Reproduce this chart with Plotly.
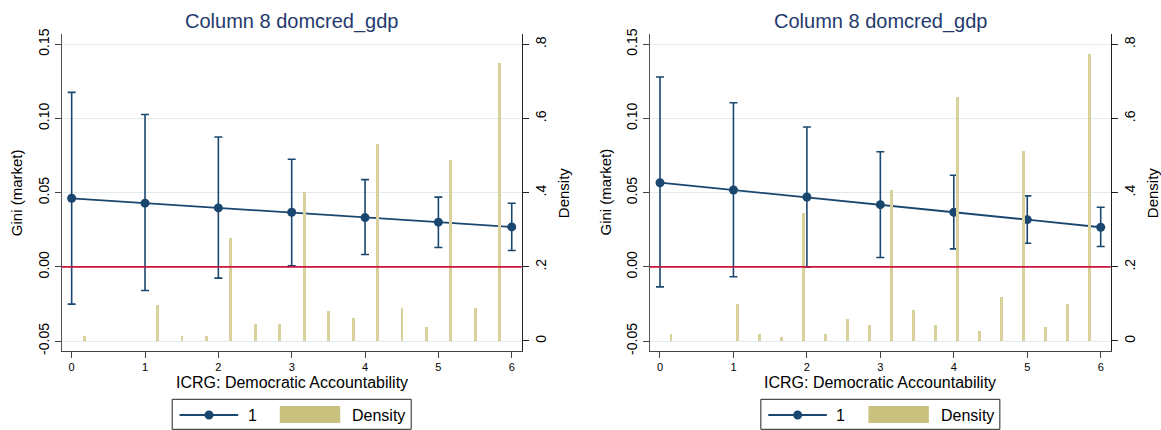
import plotly.graph_objects as go

# ---------------- data ----------------
levels = [0, 1, 2, 3, 4, 5, 6]

left_est = [0.0462, 0.0429, 0.0397, 0.0368, 0.0332, 0.0301, 0.0269]
left_lo = [-0.0251, -0.0159, -0.0076, 0.0007, 0.0083, 0.0130, 0.0110]
left_hi = [0.1176, 0.1027, 0.0875, 0.0725, 0.0588, 0.0470, 0.0429]

right_est = [0.0567, 0.0518, 0.0471, 0.0419, 0.0368, 0.0318, 0.0267]
right_lo = [-0.0135, -0.0067, 0.0000, 0.0063, 0.0121, 0.0159, 0.0137]
right_hi = [0.1279, 0.1106, 0.0942, 0.0776, 0.0617, 0.0478, 0.0402]

left_bins = [0.167, 1.167, 1.5, 1.833, 2.167, 2.5, 2.833, 3.167, 3.5, 3.833,
             4.167, 4.5, 4.833, 5.167, 5.5, 5.833]
left_dens = [0.012, 0.097, 0.012, 0.012, 0.278, 0.045, 0.045, 0.400, 0.080, 0.062,
             0.530, 0.089, 0.037, 0.487, 0.089, 0.748]

right_bins = [0.15, 1.05, 1.35, 1.65, 1.95, 2.25, 2.55, 2.85, 3.15, 3.45, 3.75,
              4.05, 4.35, 4.65, 4.95, 5.25, 5.55, 5.85]
right_dens = [0.019, 0.099, 0.019, 0.011, 0.343, 0.019, 0.058, 0.043, 0.406, 0.083,
              0.043, 0.658, 0.027, 0.117, 0.511, 0.036, 0.100, 0.773]

title_text = "Column 8 domcred_gdp"
xtitle = "ICRG: Democratic Accountability"
ytitle = "Gini (market)"
y2title = "Density"
legend_labels = ["1", "Density"]

gini_ticks = [-0.05, 0.0, 0.05, 0.10, 0.15]
gini_ticktext = ["-0.05", "0.00", "0.05", "0.10", "0.15"]
dens_ticks = [0, 0.2, 0.4, 0.6, 0.8]
dens_ticktext = ["0", ".2", ".4", ".6", ".8"]
x_ticks = [0, 1, 2, 3, 4, 5, 6]
zero_line_y = 0.0

# ---------------- style ----------------
W, H = 1161, 430
FONT = "Liberation Sans, Arial, sans-serif"
NAVY = "#1a476f"
SAND = "#d9d19c"
SAND_LEG = "#c9c27e"
RED = "#c8143c"
GRID = "#e3eaee"
TITLE_C = "#1f3a6e"

def px(x):
    return x / W

def py(y):
    return 1 - y / H

panels = [
    dict(est=left_est, lo=left_lo, hi=left_hi, bins=left_bins, dens=left_dens,
         xl=61.7, xr=521.7, xa="x", ya="y", ya2="y2"),
    dict(est=right_est, lo=right_lo, hi=right_hi, bins=right_bins, dens=right_dens,
         xl=650.0, xr=1110.7, xa="x2", ya="y3", ya2="y4"),
]
YT, YB = 34.3, 350.7

fig = go.Figure()
annotations = []
shapes = []
layout = {}

for i, p in enumerate(panels):
    xa, ya, ya2 = p["xa"], p["ya"], p["ya2"]
    err_plus = [h - e for h, e in zip(p["hi"], p["est"])]
    err_minus = [e - l for e, l in zip(p["est"], p["lo"])]
    fig.add_trace(go.Bar(
        x=p["bins"], y=p["dens"], xaxis=xa, yaxis=ya2, width=0.04,
        marker=dict(color=SAND, line=dict(width=0)), showlegend=False))
    fig.add_trace(go.Scatter(
        x=levels, y=p["est"], xaxis=xa, yaxis=ya, mode="lines+markers",
        line=dict(color=NAVY, width=1.8),
        marker=dict(color=NAVY, size=9),
        error_y=dict(type="data", symmetric=False, array=err_plus,
                     arrayminus=err_minus, color=NAVY, thickness=1.6, width=4),
        showlegend=False, cliponaxis=False))

    dom_x = [px(p["xl"]), px(p["xr"])]
    dom_y = [py(YB), py(YT)]
    xkey = "xaxis" if xa == "x" else "xaxis2"
    ykey = "yaxis" if ya == "y" else "yaxis3"
    y2key = "yaxis2" if ya2 == "y2" else "yaxis4"
    layout[xkey] = dict(domain=dom_x, anchor=ya, range=[-0.136, 6.136],
                        tickvals=x_ticks, ticks="outside", ticklen=6, tickcolor="#444",
                        showline=True, linecolor="#444", linewidth=1, showgrid=False,
                        zeroline=False, tickfont=dict(size=11, color="black", family=FONT),
                        automargin=False)
    layout[ykey] = dict(domain=dom_y, anchor=xa, range=[-0.0565, 0.1567],
                        tickvals=gini_ticks, ticktext=gini_ticktext, tickangle=-90,
                        ticks="outside", ticklen=6, tickcolor="#444",
                        showline=True, linecolor="#555", linewidth=1,
                        showgrid=True, gridcolor=GRID, gridwidth=1, zeroline=False,
                        tickfont=dict(size=14, color="black", family=FONT),
                        automargin=False)
    layout[y2key] = dict(overlaying=ya, anchor=xa, side="right", range=[-0.0262, 0.827],
                         tickvals=dens_ticks, ticktext=dens_ticktext, tickangle=-90,
                         ticks="outside", ticklen=6, tickcolor="#222",
                         showline=True, linecolor="#222", linewidth=1,
                         showgrid=False, zeroline=False,
                         tickfont=dict(size=14, color="black", family=FONT),
                         automargin=False)

    # zero reference line
    shapes.append(dict(type="line", xref=f"{xa} domain", yref=ya, x0=0, x1=1,
                       y0=zero_line_y, y1=zero_line_y,
                       line=dict(color=RED, width=1.6), layer="above"))

    cx = (p["xl"] + p["xr"]) / 2
    annotations.append(dict(text=title_text, x=px(cx), y=py(21), xref="paper", yref="paper",
                            showarrow=False, xanchor="center", yanchor="middle",
                            font=dict(size=20, color=TITLE_C, family=FONT)))
    annotations.append(dict(text=xtitle, x=px(cx), y=py(382), xref="paper", yref="paper",
                            showarrow=False, xanchor="center", yanchor="middle",
                            font=dict(size=16, color="black", family=FONT)))
    cy = (YT + YB) / 2
    annotations.append(dict(text=ytitle, x=px(p["xl"] - 45), y=py(cy), xref="paper",
                            yref="paper", showarrow=False, textangle=-90,
                            xanchor="center", yanchor="middle",
                            font=dict(size=15, color="black", family=FONT)))
    annotations.append(dict(text=y2title, x=px(p["xr"] + 42), y=py(cy), xref="paper",
                            yref="paper", showarrow=False, textangle=-90,
                            xanchor="center", yanchor="middle",
                            font=dict(size=15, color="black", family=FONT)))

    # legend (drawn manually)
    L = cx - 119.5
    ly = 415
    shapes.append(dict(type="rect", xref="paper", yref="paper", x0=px(L), x1=px(L + 239),
                       y0=py(429.3), y1=py(399.3), line=dict(color="#222", width=1),
                       fillcolor="white", layer="above"))
    shapes.append(dict(type="line", xref="paper", yref="paper", x0=px(L + 7.4), x1=px(L + 66),
                       y0=py(ly), y1=py(ly), line=dict(color=NAVY, width=1.8), layer="above"))
    shapes.append(dict(type="circle", xref="paper", yref="paper", x0=px(L + 36.8 - 4.5),
                       x1=px(L + 36.8 + 4.5), y0=py(ly + 4.5), y1=py(ly - 4.5),
                       fillcolor=NAVY, line=dict(color=NAVY, width=0), layer="above"))
    shapes.append(dict(type="rect", xref="paper", yref="paper", x0=px(L + 107.6),
                       x1=px(L + 168), y0=py(423), y1=py(406),
                       fillcolor=SAND_LEG, line=dict(width=0), layer="above"))
    annotations.append(dict(text=legend_labels[0], x=px(L + 80), y=py(ly), xref="paper",
                            yref="paper", showarrow=False, xanchor="center", yanchor="middle",
                            font=dict(size=16, color="black", family=FONT)))
    annotations.append(dict(text=legend_labels[1], x=px(L + 178), y=py(ly), xref="paper",
                            yref="paper", showarrow=False, xanchor="left", yanchor="middle",
                            font=dict(size=16, color="black", family=FONT)))

fig.update_layout(
    width=W, height=H, margin=dict(l=0, r=0, t=0, b=0),
    paper_bgcolor="white", plot_bgcolor="white",
    font=dict(family=FONT, color="black"),
    showlegend=False, bargap=0,
    annotations=annotations, shapes=shapes,
    **layout,
)

fig.write_html("out.html", config={"displayModeBar": False},
               post_script="document.body.style.margin='0';")
